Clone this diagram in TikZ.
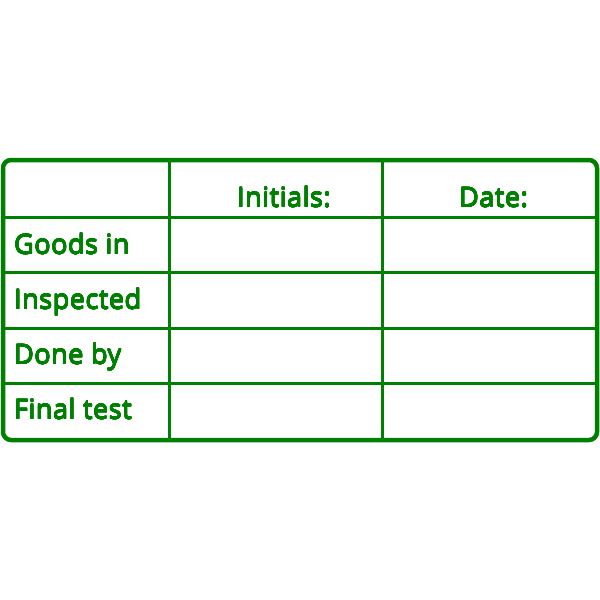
\documentclass[tikz,border=0pt]{standalone}
\usepackage{fontspec}
\usepackage{contour}
\newfontfamily\tablefont{Open Sans}[LetterSpace=2]
\contourlength{0.3pt}
\contournumber{16}
\definecolor{tablegreen}{RGB}{0,128,0}
\newcommand{\thick}[1]{\contour{tablegreen}{#1}}
\begin{document}
\begin{tikzpicture}[x=1pt,y=-1pt,
    label/.style={anchor=base west,inner sep=0pt,text=tablegreen,font=\tablefont\fontsize{27}{31}\selectfont}]
        \useasboundingbox (0,0) rectangle (600,600);

        % inner grid lines
        \draw[tablegreen,line width=3] (169,160) -- (169,440);
        \draw[tablegreen,line width=3] (382,160) -- (382,440);
        \draw[tablegreen,line width=3] (2,217) -- (598,217);
        \draw[tablegreen,line width=3] (2,272) -- (598,272);
        \draw[tablegreen,line width=3] (2,328) -- (598,328);
        \draw[tablegreen,line width=3] (2,383) -- (598,383);

        % outer frame
        \draw[tablegreen,line width=4.5,rounded corners=8] (3,160) rectangle (597,440);

        % header and row texts
        \node[label] (initials) at (237,207) {\thick{Initials:}};
        \node[label] (date) at (459,207) {\thick{Date:}};
        \node[label] (goods) at (14,254) {\thick{Goods in}};
        \node[label] (inspected) at (14,309) {\thick{Inspected}};
        \node[label] (doneby) at (14,364) {\thick{Done by}};
        \node[label] (finaltest) at (14,419) {\thick{Final test}};
    \end{tikzpicture}
\end{document}
